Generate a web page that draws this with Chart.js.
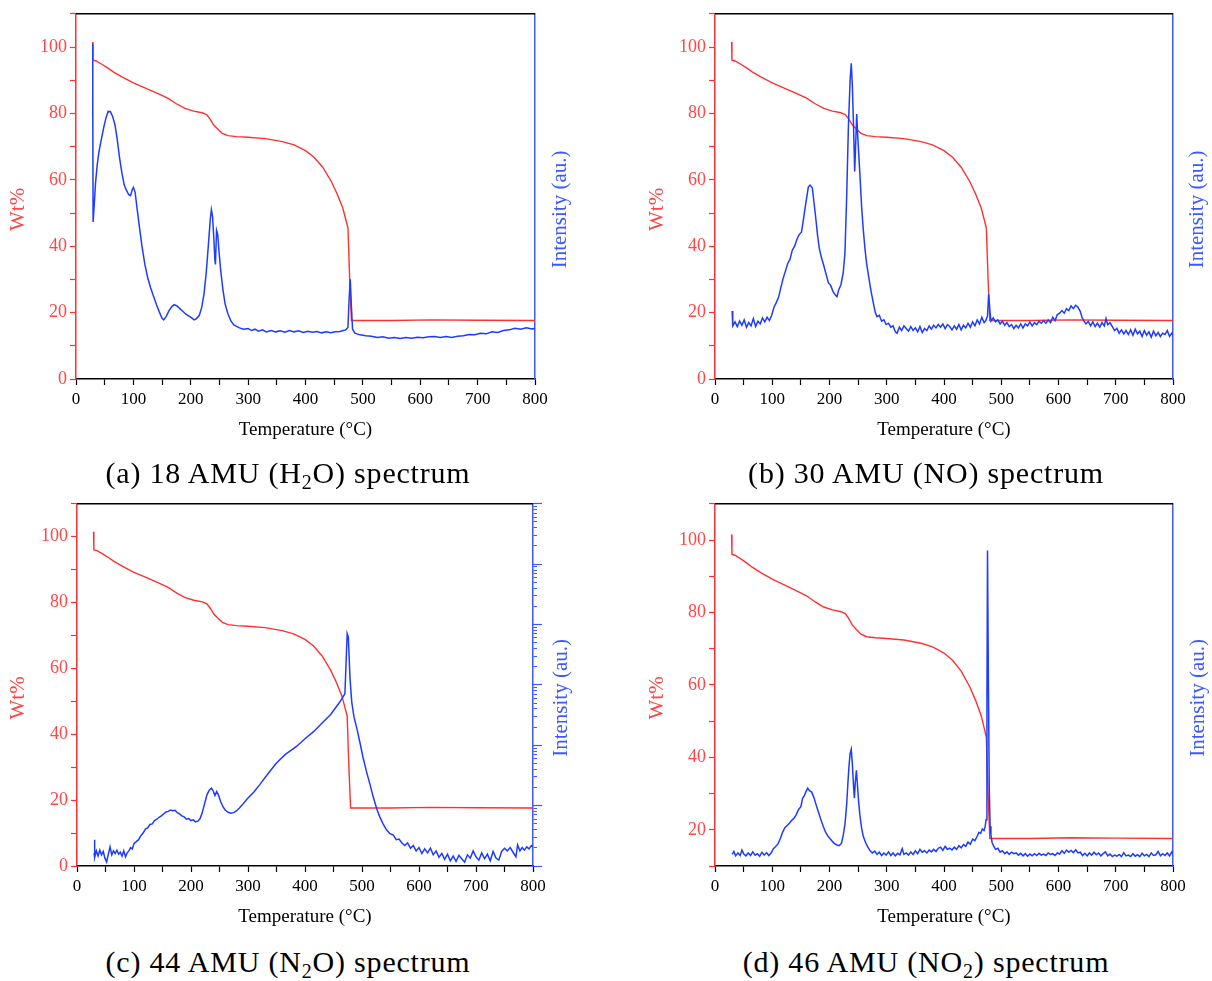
<!DOCTYPE html>
<html>
<head>
<meta charset="utf-8">
<title>TG-MS spectra</title>
<script src="https://cdn.jsdelivr.net/npm/chart.js@4.4.1/dist/chart.umd.min.js"></script>
<style>
  body { margin: 0; background: #fff; width: 1212px; height: 981px; position: relative; overflow: hidden; }
  canvas { position: absolute; }
  .cap { position: absolute; width: 606px; line-height: 34px; text-align: center; color: #000;
         font-family: "Liberation Serif", "Times New Roman", serif; font-size: 30px; letter-spacing: 0.8px; }
  .cap sub { font-size: 20px; line-height: 0; vertical-align: -6px; }
</style>
</head>
<body>
<canvas id="chartA" width="606" height="450" style="left:0;top:0"></canvas>
<canvas id="chartB" width="606" height="450" style="left:606px;top:0"></canvas>
<canvas id="chartC" width="606" height="450" style="left:0;top:490px"></canvas>
<canvas id="chartD" width="606" height="450" style="left:606px;top:490px"></canvas>
<div class="cap" style="left:-15px;top:456px">(a) 18 AMU (H<sub>2</sub>O) spectrum</div>
<div class="cap" style="left:623px;top:456px">(b) 30 AMU (NO) spectrum</div>
<div class="cap" style="left:-15px;top:945px">(c) 44 AMU (N<sub>2</sub>O) spectrum</div>
<div class="cap" style="left:623px;top:945px">(d) 46 AMU (NO<sub>2</sub>) spectrum</div>
<script>
// TG curve (same run in every panel)
const tgTemp = [29, 29.6, 35, 45, 55, 65, 80, 100, 120, 140,
  160, 175, 190, 205, 220, 228, 234, 240, 247, 255,
  265, 280, 300, 330, 360, 380, 400, 415, 430, 445,
  455, 465, 471, 474, 477, 480, 550, 620, 700, 800];
const tgWt = [101.5, 96.0, 95.8, 94.8, 93.7, 92.5, 91.0, 89.2, 87.7, 86.2,
  84.6, 82.9, 81.5, 80.7, 80.2, 79.6, 78.2, 76.5, 75.3, 74.0,
  73.3, 73.0, 72.8, 72.4, 71.5, 70.5, 68.8, 66.8, 63.8, 59.5,
  55.8, 51.5, 47.5, 45.5, 30.0, 17.6, 17.6, 17.8, 17.7, 17.6];

// (a) 18 AMU
const h2oTemp = [28.6, 29.0, 29.4, 29.8, 32, 34, 37, 40, 44, 48,
  52, 56, 60, 64, 68, 72, 76, 80, 84, 88,
  92, 95, 98, 100, 103, 106, 110, 115, 120, 125,
  130, 135, 140, 145, 150, 153, 157, 162, 167, 171,
  176, 181, 186, 191, 196, 201, 206, 210, 215, 219,
  223, 227, 231, 234, 236, 238, 240, 242, 243, 245,
  247, 249, 252, 256, 260, 265, 270, 275, 285, 292,
  300, 306, 312, 318, 325, 332, 340, 348, 356, 364,
  372, 380, 388, 396, 404, 412, 420, 428, 436, 444,
  452, 460, 466, 470, 474, 476, 478, 480, 482, 486,
  495, 505, 515, 525, 535, 545, 555, 565, 575, 585,
  595, 605, 615, 625, 635, 645, 655, 665, 675, 685,
  695, 705, 715, 725, 735, 745, 755, 765, 775, 785,
  795, 800];
const h2oSignal = [79, 101, 85, 47.3, 53, 59, 64.5, 68.5, 72, 75.5,
  78.5, 80.6, 80.5, 79, 76.5, 72, 66.5, 62, 58.5, 56.8,
  55.5, 55.2, 57, 57.7, 56.3, 52, 46.5, 40, 34.5, 30.5,
  27.5, 25, 22.5, 20.3, 18.3, 17.8, 18.8, 20.5, 21.8, 22.4,
  22, 21.2, 20.4, 19.6, 19, 18.5, 17.8, 18.2, 19.2, 21.5,
  25.5, 32, 41, 48, 51, 49, 43, 36, 34.5, 44.8,
  43.5, 39, 33, 27, 22.5, 19.5, 17.5, 16.3, 15.4, 15.0,
  15.2, 14.6, 15.0, 14.4, 14.8, 14.2, 14.6, 14.2, 14.5, 14.1,
  14.6, 14.2, 14.5, 14.0, 14.4, 14.1, 14.3, 13.9, 14.2, 13.9,
  14.2, 14.3, 14.6, 14.8, 15.5, 24, 30, 22, 15, 13.8,
  13.3, 13.0, 12.9, 12.5, 12.7, 12.3, 12.5, 12.2, 12.5, 12.3,
  12.6, 12.4, 12.7, 12.8, 12.5, 12.8, 12.5, 12.9, 13.0, 13.4,
  13.3, 13.8, 13.6, 14.2, 14.0, 14.6, 14.8, 15.3, 15.0, 15.4,
  15.1, 15.2];

// (b) 30 AMU
const noTemp = [30, 31, 35, 39, 43, 47, 51, 55, 59, 63,
  67, 71, 75, 79, 83, 87, 91, 95, 99, 103,
  107, 111, 115, 119, 123, 127, 131, 135, 139, 143,
  147, 151, 154, 157, 160, 163, 166, 170, 173, 176,
  179, 182, 186, 190, 194, 198, 202, 206, 210, 213,
  216, 220, 224, 227, 230, 233, 236, 238, 240, 242,
  244, 246, 247.5, 250, 253, 256, 259, 262, 265, 268,
  272, 276, 280, 283, 287, 291, 295, 299, 303, 307,
  311, 315, 318, 322, 326, 330, 334, 338, 342, 346,
  350, 354, 358, 362, 366, 370, 374, 378, 382, 386,
  390, 394, 398, 402, 406, 410, 414, 418, 422, 426,
  430, 434, 438, 442, 446, 450, 454, 458, 462, 466,
  470, 473, 476, 478, 480, 482, 486, 490, 494, 498,
  502, 506, 510, 514, 518, 522, 526, 530, 534, 538,
  542, 546, 550, 554, 558, 562, 566, 570, 574, 578,
  582, 586, 590, 594, 598, 602, 606, 610, 614, 618,
  622, 626, 630, 634, 638, 641, 644, 648, 652, 656,
  660, 664, 668, 672, 676, 680, 683, 686, 690, 694,
  698, 702, 706, 710, 714, 718, 722, 726, 730, 734,
  738, 742, 746, 750, 754, 758, 762, 766, 770, 774,
  778, 782, 786, 790, 794, 798, 800];
const noSignal = [20.5, 16.0, 17.2, 15.8, 17.5, 16.2, 17.8, 15.6, 17.0, 16.0,
  18.2, 15.8, 17.4, 16.6, 18.4, 17.2, 18.6, 17.6, 19.2, 21.6,
  23.0, 24.6, 27.5, 30.3, 32.5, 34.8, 36.0, 38.8, 40.0, 42.0,
  43.5, 44.2, 47.5, 51.1, 54.5, 57.8, 58.4, 57.6, 53.0, 48.5,
  43.5, 39.5, 36.5, 34.2, 31.6, 29.0, 28.2, 26.4, 25.4, 24.8,
  26.8, 28.4, 32.0, 38.0, 55.0, 76.0, 90.0, 95.1, 88.0, 76.0,
  62.5, 72.0, 79.8, 71.0, 62.0, 52.1, 45.0, 39.2, 34.5, 31.3,
  27.0, 23.4, 20.0, 18.8, 19.2, 17.4, 17.8, 16.4, 16.8, 15.6,
  16.0, 14.2, 13.8, 15.6, 14.6, 16.0, 15.2, 14.4, 15.8, 14.6,
  15.4, 14.2, 15.8, 14.0, 15.2, 14.6, 16.0, 15.0, 16.2, 15.4,
  16.4, 15.6, 16.6, 15.2, 16.4, 15.8, 14.8, 16.0, 15.0, 16.4,
  14.8, 16.2, 15.4, 16.8, 15.6, 17.2, 16.0, 17.8, 16.6, 18.6,
  17.0, 17.6, 19.0, 25.5, 21.0, 17.4, 18.4, 17.2, 17.8, 16.6,
  17.4, 16.2, 17.0, 15.8, 16.4, 15.2, 16.2, 15.4, 16.6, 15.4,
  16.6, 16.0, 17.2, 16.0, 17.0, 16.4, 17.4, 16.8, 17.6, 16.8,
  17.8, 17.0, 18.6, 17.6, 19.4, 19.8, 20.6, 19.8, 21.2, 20.6,
  22.0, 21.2, 22.2, 21.6, 20.4, 18.6, 17.6, 16.6, 17.4, 16.0,
  17.2, 15.8, 16.8, 15.6, 17.0, 16.0, 18.2, 16.4, 17.0, 15.8,
  14.6, 15.2, 13.8, 14.8, 13.6, 14.6, 13.4, 14.8, 13.2, 15.0,
  13.6, 14.4, 12.8, 14.6, 13.2, 14.2, 12.6, 14.4, 13.0, 14.0,
  12.8, 13.8, 13.4, 14.6, 12.8, 13.8, 13.2];

// (c) 44 AMU, read on the log intensity axis (1 .. 1e6)
const n2oTemp = [30, 30.5, 31.5, 34, 37, 40, 43, 46, 49, 52,
  55, 58, 61, 64, 67, 70, 73, 76, 79, 82,
  85, 88, 91, 94, 97, 100, 104, 108, 112, 116,
  120, 124, 128, 132, 136, 140, 144, 148, 152, 156,
  160, 164, 168, 172, 176, 180, 184, 188, 192, 196,
  200, 204, 208, 212, 216, 220, 224, 228, 232, 236,
  239, 242, 245, 248, 252, 256, 260, 265, 270, 275,
  280, 285, 290, 298, 310, 321, 335, 350, 365, 385,
  400, 415, 430, 445, 461, 470, 474, 476, 479, 482,
  486, 491, 497, 502, 508, 514, 520, 526, 531, 537,
  543, 549, 555, 560, 565, 570, 575, 580, 585, 590,
  595, 600, 605, 610, 615, 620, 625, 630, 635, 640,
  645, 650, 655, 660, 665, 670, 675, 680, 685, 690,
  695, 700, 705, 710, 715, 720, 725, 730, 735, 740,
  745, 750, 755, 760, 765, 770, 773, 777, 781, 785,
  789, 793, 797, 800];
const n2oSignal = [1.65, 2.73, 1.39, 1.78, 1.46, 1.83, 1.53, 1.74, 1.35, 1.16,
  1.57, 2.07, 1.53, 1.78, 1.61, 1.83, 1.57, 1.69, 1.46, 1.78,
  1.42, 1.65, 1.78, 2.02, 1.92, 2.35, 2.53, 2.73, 3.18, 3.51,
  4.08, 4.29, 4.87, 4.99, 5.66, 5.95, 6.41, 6.75, 7.28, 7.85,
  8.04, 8.46, 8.25, 8.36, 7.65, 7.28, 6.75, 6.50, 5.95, 6.10,
  5.66, 5.81, 5.38, 5.52, 6.10, 7.85, 10.9, 15.1, 18.0, 19.4,
  17.5, 14.7, 17.1, 15.1, 11.7, 9.59, 8.46, 7.75, 7.46, 7.65,
  8.25, 9.12, 10.3, 12.8, 16.7, 22.5, 33.7, 51.0, 69.8, 95.5,
  128, 168, 233, 323, 520, 713, 7100, 6180, 1270, 520,
  292, 191, 104, 61.5, 36.3, 22.5, 13.6, 8.79, 6.58, 4.99,
  3.98, 3.43, 3.26, 2.73, 2.80, 2.41, 2.18, 2.41, 1.97, 2.18,
  1.78, 2.02, 1.61, 1.92, 1.65, 1.97, 1.53, 1.78, 1.39, 1.61,
  1.29, 1.57, 1.22, 1.46, 1.19, 1.50, 1.32, 1.16, 1.53, 1.35,
  1.78, 1.42, 1.25, 1.65, 1.32, 1.57, 1.22, 1.74, 1.35, 1.25,
  1.74, 1.97, 1.78, 2.02, 1.69, 1.42, 2.23, 1.78, 2.02, 1.83,
  2.07, 1.92, 2.18, 2.12];

// (d) 46 AMU
const no2Temp = [30, 33, 36, 40, 44, 47, 50, 54, 58, 62,
  66, 70, 74, 78, 82, 86, 90, 94, 98, 102,
  106, 110, 114, 118, 122, 126, 130, 134, 138, 142,
  146, 150, 153, 156, 159, 162, 165, 169, 173, 177,
  181, 185, 189, 193, 197, 201, 205, 209, 213, 217,
  221, 224, 227, 230, 232, 234, 236, 238, 240, 242,
  243.5, 245, 247, 249, 251, 253, 256, 259, 263, 267,
  271, 275, 279, 283, 287, 291, 295, 299, 303, 307,
  311, 315, 319, 323, 327, 330, 334, 338, 342, 346,
  350, 354, 358, 362, 366, 370, 374, 378, 382, 386,
  390, 394, 398, 402, 406, 410, 414, 418, 422, 426,
  430, 434, 438, 442, 446, 450, 454, 458, 461, 464,
  467, 470, 472, 473.5, 475, 476, 477.5, 479, 480.5, 482,
  484, 487, 490, 494, 498, 502, 506, 510, 514, 518,
  522, 526, 530, 534, 538, 542, 546, 550, 554, 558,
  562, 566, 570, 574, 578, 582, 586, 590, 594, 598,
  602, 606, 610, 614, 618, 622, 626, 630, 634, 638,
  642, 646, 650, 654, 658, 662, 666, 670, 674, 678,
  682, 686, 690, 694, 698, 702, 706, 710, 714, 718,
  722, 726, 730, 734, 738, 742, 746, 750, 754, 758,
  762, 766, 770, 774, 778, 782, 786, 790, 794, 798, 800];
const no2Signal = [13.2, 14.0, 12.8, 13.6, 12.9, 14.4, 13.4, 12.8, 13.6, 12.9,
  13.9, 13.0, 13.4, 12.7, 13.8, 13.0, 13.7, 12.9, 13.6, 14.8,
  15.4, 16.1, 17.5, 19.3, 20.6, 21.2, 21.8, 22.6, 23.2, 24.2,
  25.6, 26.4, 28.7, 29.4, 30.6, 31.5, 30.8, 30.4, 28.8, 26.7,
  24.8, 22.8, 21.0, 19.4, 18.3, 17.5, 16.8, 16.2, 15.8, 15.6,
  16.3, 18.5, 21.5, 27.0, 32.5, 37.5, 41.0, 42.2, 38.0, 32.0,
  28.7, 33.0, 36.4, 32.0, 27.5, 24.2, 20.5, 18.2, 16.5, 15.2,
  14.2, 13.6, 14.1, 13.2, 13.8, 12.9, 13.6, 13.0, 13.9, 12.9,
  13.6, 12.8, 13.5, 13.1, 14.8, 13.2, 13.6, 13.0, 13.9, 13.2,
  14.2, 13.4, 14.6, 13.8, 14.2, 13.6, 14.4, 13.9, 14.6, 14.0,
  14.9, 15.2, 14.3, 15.4, 14.6, 14.9, 14.4, 15.2, 14.6, 15.6,
  15.0, 15.9, 15.4, 16.6, 16.0, 17.4, 17.0, 18.2, 19.3, 19.0,
  20.2, 19.8, 21.0, 22.8, 55.0, 97.1, 62.0, 32.0, 21.0, 18.5,
  16.5, 15.4, 14.6, 14.9, 13.8, 14.2, 13.4, 13.9, 13.2, 13.8,
  13.4, 13.6, 13.0, 13.5, 12.8, 13.4, 12.7, 13.3, 12.8, 13.4,
  12.9, 13.5, 13.0, 13.3, 12.9, 13.6, 13.2, 13.4, 12.9, 13.6,
  13.3, 14.2, 13.5, 14.4, 13.8, 14.3, 13.7, 14.5, 13.6, 13.8,
  12.9, 13.5, 12.8, 13.6, 13.0, 13.8, 13.1, 13.6, 12.8, 13.4,
  13.9, 12.8, 13.3, 12.6, 13.0, 12.7, 13.2, 12.6, 13.7, 12.8,
  13.0, 12.6, 13.4, 12.7, 13.1, 12.6, 13.5, 12.8, 13.2, 12.6,
  13.6, 12.9, 13.1, 14.0, 12.8, 13.4, 12.9, 13.6, 12.8, 13.9, 13.3];

const RED = '#ff3030';
const RED_TEXT = '#ff4646';
const BLUE = '#1e3cff';
const BLUE_AXIS = '#3a5aff';
const SERIF = '"Liberation Serif", "Times New Roman", serif';

Chart.defaults.font.family = SERIF;

function pairs(xs, ys) {
  return xs.map((x, i) => ({ x: x, y: ys[i] }));
}

// vertical titles (both read bottom-to-top) and the black top frame line
const frameTitles = {
  id: 'frameTitles',
  afterDraw(chart, args, opts) {
    const { ctx, chartArea } = chart;
    const cy = (chartArea.top + chartArea.bottom) / 2 + opts.shiftY;
    ctx.save();
    ctx.strokeStyle = '#000';
    ctx.lineWidth = 1.5;
    ctx.beginPath();
    ctx.moveTo(chartArea.left, chartArea.top);
    ctx.lineTo(chartArea.right, chartArea.top);
    ctx.stroke();
    ctx.font = '21px ' + SERIF;
    ctx.textAlign = 'center';
    ctx.textBaseline = 'middle';
    opts.items.forEach(it => {
      ctx.save();
      ctx.translate(it.x, cy);
      ctx.rotate(-Math.PI / 2);
      ctx.fillStyle = it.color;
      ctx.fillText(it.text, 0, 0);
      ctx.restore();
    });
    ctx.restore();
  }
};

function isDecadeMantissa(v) {
  const m = v / Math.pow(10, Math.floor(Math.log10(v) + 1e-9));
  return Math.abs(m - Math.round(m)) < 1e-6;
}

function makePanel(id, box, sigTemp, sigVal) {
  const scales = {
    x: {
      type: 'linear', position: 'bottom', min: 0, max: 800,
      ticks: {
        stepSize: 50, maxTicksLimit: 40, autoSkip: false, maxRotation: 0, padding: 4,
        color: '#000', font: { size: 17 },
        callback: v => (v % 100 === 0 ? v : '')
      },
      grid: { drawOnChartArea: false, tickLength: 6, tickColor: '#000', tickWidth: 1.2 },
      border: { color: '#000', width: 1.5 },
      title: { display: true, text: 'Temperature (°C)', color: '#000', font: { size: 19 },
               padding: { top: 0, bottom: box.xTitlePad } },
      afterFit: s => { s.height = box.bottom; }
    },
    y: {
      type: 'linear', position: 'left', min: box.wtMin, max: 110,
      ticks: {
        stepSize: 10, maxTicksLimit: 40, autoSkip: false, padding: 3,
        color: RED_TEXT, font: { size: 18 },
        callback: v => (v % 20 === 0 && v <= 100 ? v : '')
      },
      grid: { drawOnChartArea: false, tickLength: 6, tickColor: RED, tickWidth: 1.2 },
      border: { color: RED, width: 1.5 },
      afterFit: s => { s.width = box.left; }
    }
  };

  if (box.logIntensity) {
    // long ticks at each decade
    scales.yMajor = {
      type: 'logarithmic', position: 'right', weight: 0, min: 1, max: 1e6,
      ticks: { display: false },
      grid: { drawOnChartArea: false, tickLength: 9, tickColor: BLUE_AXIS, tickWidth: 1.2 },
      border: { display: false },
      afterBuildTicks: s => { s.ticks = s.ticks.filter(t => Math.abs(Math.log10(t.value) - Math.round(Math.log10(t.value))) < 1e-6); },
      afterFit: s => { s.width = 0; }
    };
    scales.y2 = {
      type: 'logarithmic', position: 'right', weight: 1, min: 1, max: 1e6,
      ticks: { display: false },
      grid: { drawOnChartArea: false, tickLength: 4, tickColor: BLUE_AXIS, tickWidth: 1 },
      border: { color: BLUE_AXIS, width: 1.5 },
      afterBuildTicks: s => { s.ticks = s.ticks.filter(t => isDecadeMantissa(t.value)); },
      afterFit: s => { s.width = box.right; }
    };
  } else {
    scales.y2 = {
      type: 'linear', position: 'right', min: box.wtMin, max: 110,
      ticks: { display: false },
      grid: { drawOnChartArea: false, drawTicks: false },
      border: { color: BLUE_AXIS, width: 1.5 },
      afterFit: s => { s.width = box.right; }
    };
  }

  return new Chart(document.getElementById(id), {
    type: 'line',
    data: {
      datasets: [
        { label: 'MS intensity', data: pairs(sigTemp, sigVal), yAxisID: 'y2',
          borderColor: BLUE, borderWidth: 1.5, pointRadius: 0, order: 0 },
        { label: 'Wt%', data: pairs(tgTemp, tgWt), yAxisID: 'y',
          borderColor: RED, borderWidth: 1.4, pointRadius: 0, order: 1 }
      ]
    },
    options: {
      responsive: false,
      animation: false,
      devicePixelRatio: 1,
      layout: { padding: { top: box.top, left: 0, right: 0, bottom: 0 } },
      plugins: {
        legend: { display: false },
        tooltip: { enabled: false },
        frameTitles: {
          shiftY: 13,
          items: [
            { text: 'Wt%', x: box.wtTitleX, color: RED_TEXT },
            { text: 'Intensity (au.)', x: box.intTitleX, color: BLUE_AXIS }
          ]
        }
      },
      scales: scales
    },
    plugins: [frameTitles]
  });
}

makePanel('chartA', { top: 8, left: 76, right: 71, bottom: 71, wtMin: 0, xTitlePad: 9,
  wtTitleX: 18, intTitleX: 560 }, h2oTemp, h2oSignal);
makePanel('chartB', { top: 8, left: 109, right: 39, bottom: 71, wtMin: 0, xTitlePad: 9,
  wtTitleX: 51, intTitleX: 591 }, noTemp, noSignal);
makePanel('chartC', { top: 8, left: 77, right: 73, bottom: 74, wtMin: 0, xTitlePad: 12,
  wtTitleX: 18, intTitleX: 561, logIntensity: true }, n2oTemp, n2oSignal);
makePanel('chartD', { top: 6, left: 109, right: 39, bottom: 74, wtMin: 10, xTitlePad: 12,
  wtTitleX: 51, intTitleX: 592 }, no2Temp, no2Signal);
</script>
</body>
</html>
